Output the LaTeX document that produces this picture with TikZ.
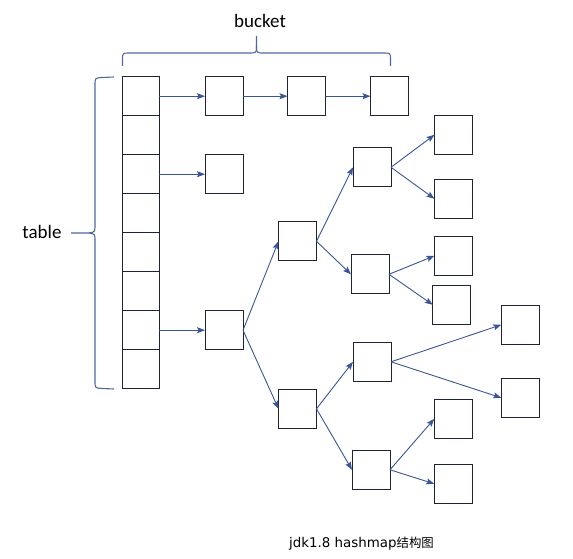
\documentclass[tikz,border=0pt]{standalone}
\usepackage{fontspec}
\newfontfamily\calibri{Carlito}
\newfontfamily\dejavu{DejaVu Sans}
\newfontfamily\cjk{Noto Sans CJK SC}
\usetikzlibrary{arrows.meta}
\definecolor{boxc}{RGB}{30,36,52}
\definecolor{arrc}{RGB}{58,84,152}
\definecolor{bracec}{RGB}{80,104,160}
\begin{document}
\begin{tikzpicture}[x=1pt,y=-1pt,
  box/.style={draw=boxc,line width=0.95pt,minimum width=38pt,minimum height=39pt,inner sep=0pt,outer sep=0pt},
  cell/.style={draw=boxc,line width=0.95pt,minimum width=37pt,minimum height=39pt,inner sep=0pt,outer sep=0pt},
  arr/.style={draw=arrc,line width=0.9pt,-{Stealth[length=8pt,width=6pt,inset=1.5pt]}},
  brc/.style={draw=bracec,line width=1.1pt},
  lbl/.style={font=\calibri\fontsize{19}{22}\selectfont,inner sep=0pt}]
\useasboundingbox (0,0) rectangle (573,559);
% table
\foreach \i in {1,...,8}{
  \node[cell] (t\i) at (140.5,{96.2+39*(\i-1)}) {};
}
% buckets
\node[box] (b2) at (224,96.2) {};
\node[box] (b3) at (306.5,96.2) {};
\node[box] (b4) at (389.5,96.2) {};
\node[box] (r3) at (224,174.2) {};
\node[box] (r7) at (224,330.2) {};
% tree
\node[box] (A) at (297.5,241.3) {};
\node[box] (B) at (297.5,408.8) {};
\node[box] (C) at (372,167.3) {};
\node[box] (D) at (370,274.3) {};
\node[box] (E) at (372,361.8) {};
\node[box] (F) at (371,469.8) {};
\node[box] (G) at (453.5,134.8) {};
\node[box] (H) at (453.5,198.8) {};
\node[box] (I) at (453.5,255.8) {};
\node[box] (J) at (451.8,304.8) {};
\node[box] (K) at (520.3,324.8) {};
\node[box] (L) at (520.3,397.8) {};
\node[box] (M) at (453.3,418.8) {};
\node[box] (N) at (453.3,483.8) {};
% arrows
\draw[arr] (t1.east) -- (b2.west);
\draw[arr] (b2.east) -- (b3.west);
\draw[arr] (b3.east) -- (b4.west);
\draw[arr] (t3.east) -- (r3.west);
\draw[arr] (t7.east) -- (r7.west);
\draw[arr] (r7.east) -- (A.west);
\draw[arr] (r7.east) -- (B.west);
\draw[arr] (A.east) -- (C.west);
\draw[arr] (A.east) -- (D.west);
\draw[arr] (B.east) -- (E.west);
\draw[arr] (B.east) -- (F.west);
\draw[arr] (C.east) -- (G.west);
\draw[arr] (C.east) -- (H.west);
\draw[arr] (D.east) -- (I.west);
\draw[arr] (D.east) -- (J.west);
\draw[arr] (E.east) -- (K.west);
\draw[arr] (E.east) -- (L.west);
\draw[arr] (F.east) -- (M.west);
\draw[arr] (F.east) -- (N.west);
% top brace
\coordinate (tbL) at (122.5,66);
\coordinate (tbR) at (390.5,66);
\coordinate (tbM) at (256.5,36);
\draw[brc] (tbL) -- (122.5,60) .. controls (122.5,53) .. (129,53) -- (249,53)
  .. controls (256.5,53) .. (256.5,46) -- (tbM);
\draw[brc] (tbR) -- (390.5,60) .. controls (390.5,53) .. (384,53) -- (264,53)
  .. controls (256.5,53) .. (256.5,46);
% left brace
\coordinate (lbT) at (114,77);
\coordinate (lbB) at (114,389);
\coordinate (lbM) at (71,233);
\draw[brc] (lbT) -- (102,77.5) .. controls (95,78) .. (95,85) -- (95,225)
  .. controls (95,232) .. (89,233) -- (lbM);
\draw[brc] (lbB) -- (102,388.5) .. controls (95,388) .. (95,381) -- (95,241)
  .. controls (95,234) .. (89,233);
% labels
\node[lbl] (bucket) at (260,21) {bucket};
\node[lbl] (table) at (42,232) {table};
\node[inner sep=0pt] (cap) at (361.5,544) {\dejavu\fontsize{13.4}{15}\selectfont jdk1.8 hashmap\cjk\fontsize{12.4}{15}\selectfont 结构图};
\end{tikzpicture}
\end{document}
